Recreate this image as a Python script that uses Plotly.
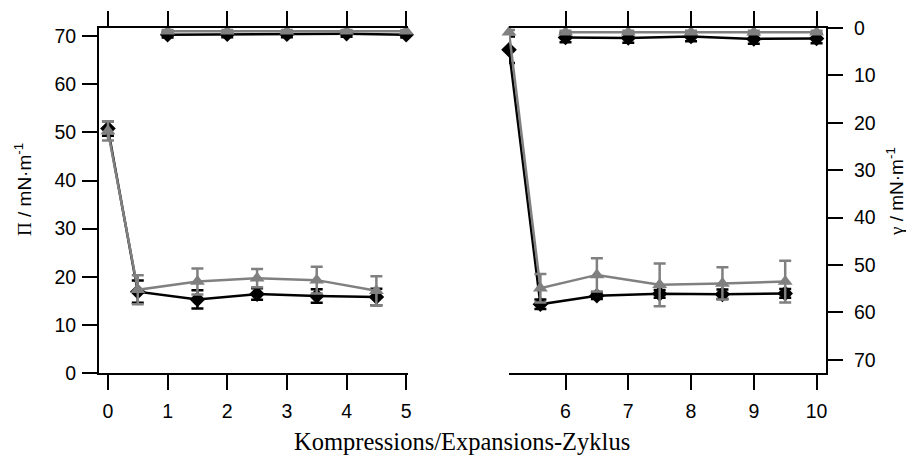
import plotly.graph_objects as go

# Cycle positions and values, left panel: surface pressure (mN/m)
x_low_l = [0, 0.5, 1.5, 2.5, 3.5, 4.5]
x_top_l = [1, 2, 3, 4, 5]
pi_black_low = [50.8, 16.9, 15.3, 16.4, 16.0, 15.8]
pi_black_low_err = [1.5, 2.3, 1.9, 1.2, 1.4, 1.7]
pi_gray_low = [50.3, 17.3, 19.0, 19.7, 19.3, 17.1]
pi_gray_low_err = [2.0, 3.0, 2.7, 1.9, 2.8, 3.0]
pi_black_top = [70.3, 70.4, 70.4, 70.5, 70.3]
pi_black_top_err = [0.6, 0.6, 0.6, 0.6, 0.6]
pi_gray_top = [71.0, 71.0, 71.0, 71.0, 71.0]
pi_gray_top_err = [0.3, 0.3, 0.3, 0.3, 0.3]

# Right panel: surface tension (mN/m), reversed axis
x_low_r = [5.1, 5.6, 6.5, 7.5, 8.5, 9.5]
x_top_r = [6, 7, 8, 9, 10]
g_black_low = [4.6, 58.3, 56.5, 56.1, 56.2, 56.0]
g_black_low_err = [2.8, 1.0, 0.7, 0.8, 1.0, 0.9]
g_gray_low = [0.9, 54.9, 52.1, 54.2, 53.9, 53.5]
g_gray_low_err = [0.5, 3.0, 3.5, 4.5, 3.4, 4.4]
g_black_top = [2.0, 2.1, 1.8, 2.3, 2.2]
g_black_top_err = [1.0, 1.0, 1.0, 1.0, 1.0]
g_gray_top = [0.9, 0.9, 0.9, 0.9, 0.9]
g_gray_top_err = [0.3, 0.3, 0.3, 0.3, 0.3]

x_ticks_l = [0, 1, 2, 3, 4, 5]
x_ticks_r = [6, 7, 8, 9, 10]
y_ticks = [0, 10, 20, 30, 40, 50, 60, 70]

BLACK = "#000000"
GRAY = "#808080"
W, H = 906, 457


def series(x, y, err, color, symbol, size, xa, ya):
    return go.Scatter(
        x=x, y=y, xaxis=xa, yaxis=ya, mode="lines+markers",
        line=dict(color=color, width=2.5),
        marker=dict(color=color, symbol=symbol, size=size),
        error_y=dict(type="data", array=err, color=color, thickness=2.5, width=6),
        cliponaxis=False, showlegend=False,
    )


fig = go.Figure()
for xa, ya, xl, xt, bl, ble, gl, gle, bt, bte, gt, gte in [
    ("x", "y", x_low_l, x_top_l, pi_black_low, pi_black_low_err, pi_gray_low, pi_gray_low_err,
     pi_black_top, pi_black_top_err, pi_gray_top, pi_gray_top_err),
    ("x2", "y2", x_low_r, x_top_r, g_black_low, g_black_low_err, g_gray_low, g_gray_low_err,
     g_black_top, g_black_top_err, g_gray_top, g_gray_top_err),
]:
    fig.add_trace(series(xt, bt, bte, BLACK, "diamond", 12, xa, ya))
    fig.add_trace(series(xl, bl, ble, BLACK, "diamond", 12, xa, ya))
    fig.add_trace(series(xt, gt, gte, GRAY, "triangle-up", 13, xa, ya))
    fig.add_trace(series(xl, gl, gle, GRAY, "triangle-up", 13, xa, ya))

tickfont = dict(family="Liberation Sans, Arial", size=19.5, color="black")
axis_common = dict(
    showgrid=False, zeroline=False, showline=True, linecolor="black", linewidth=2,
    ticks="outside", ticklen=15, tickwidth=2, tickcolor="black", tickfont=tickfont,
    automargin=False,
)
y_dom = [1 - 373 / H, 1 - 28 / H]

fig.update_layout(
    width=W, height=H, margin=dict(l=0, r=0, t=0, b=0),
    paper_bgcolor="white", plot_bgcolor="white",
    xaxis=dict(domain=[99 / W, 408 / W], range=[-0.15, 5.03], tickvals=x_ticks_l,
               mirror="ticks", anchor="y", ticklabelstandoff=5, **axis_common),
    yaxis=dict(domain=y_dom, range=[0, 71.7], tickvals=y_ticks, anchor="x",
               ticklabelstandoff=2, **axis_common),
    xaxis2=dict(domain=[509 / W, 826 / W], range=[5.1, 10.15], tickvals=x_ticks_r,
                mirror="ticks", anchor="y2", ticklabelstandoff=5, **axis_common),
    yaxis2=dict(domain=y_dom, range=[72.8, 0], tickvals=y_ticks, anchor="x2", side="right",
                ticklabelstandoff=7, **axis_common),
    annotations=[
        dict(text="Kompressions/Expansions-Zyklus", x=462 / W, y=1 - 441 / H,
             xref="paper", yref="paper", showarrow=False, xanchor="center", yanchor="middle",
             font=dict(family="Liberation Serif, Times New Roman", size=24.5, color="black")),
        dict(text="<span style='font-family:Liberation Serif'>\u03a0</span> / mN\u00b7m<sup>-1</sup>",
             x=23 / W, y=1 - 190 / H, textangle=-90,
             xref="paper", yref="paper", showarrow=False, xanchor="center", yanchor="middle",
             font=dict(family="Liberation Sans, Arial", size=19, color="black")),
        dict(text="<span style='font-family:Liberation Serif'>\u03b3</span> / mN\u00b7m<sup>-1</sup>",
             x=895 / W, y=1 - 192 / H, textangle=-90,
             xref="paper", yref="paper", showarrow=False, xanchor="center", yanchor="middle",
             font=dict(family="Liberation Sans, Arial", size=19, color="black")),
    ],
)

fig.write_html("out.html")
